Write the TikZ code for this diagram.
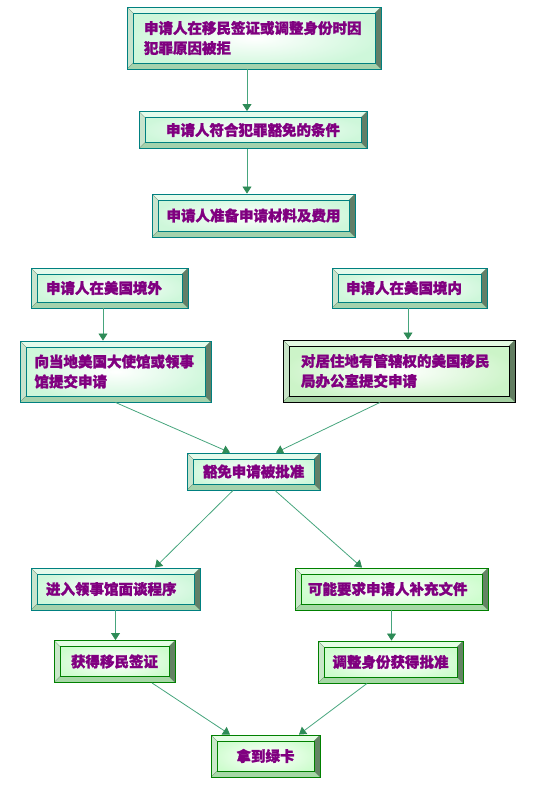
\documentclass[tikz,border=0pt]{standalone}
\usepackage{fontspec}
\newfontfamily\cjk{Noto Sans CJK SC}[FakeBold=1.6]
\usepackage{tikz}
\usetikzlibrary{arrows.meta,positioning,calc}
\usepackage{xcolor}
\definecolor{flowteal}{RGB}{0,128,128}
\definecolor{flowgreen}{RGB}{0,128,0}
\definecolor{flowtext}{RGB}{128,0,128}
\definecolor{flowline}{RGB}{70,165,125}
\definecolor{flowhead}{RGB}{46,139,87}
\definecolor{tealbottom}{RGB}{164,210,172}
\definecolor{tealinner}{RGB}{206,247,218}
\definecolor{greenbottom}{RGB}{166,216,166}
\definecolor{greeninner}{RGB}{206,253,206}
\definecolor{darkbottom}{RGB}{164,208,162}
\definecolor{darkinner}{RGB}{204,244,200}
\tikzset{
    bevel/.style n args={3}{rectangle, draw=#1, line width=0.9pt, inner sep=0pt,
        font=\cjk\bfseries\fontsize{14.5}{20}\selectfont, text=flowtext, align=left,
        inner color=white, outer color=#3,
        path picture={
            \coordinate (pA) at (path picture bounding box.north west);
            \coordinate (pB) at (path picture bounding box.north east);
            \coordinate (pC) at (path picture bounding box.south east);
            \coordinate (pD) at (path picture bounding box.south west);
            \coordinate (pa) at ([shift={(6pt,-6pt)}]pA);
            \coordinate (pb) at ([shift={(-6pt,-6pt)}]pB);
            \coordinate (pc) at ([shift={(-6pt,6pt)}]pC);
            \coordinate (pd) at ([shift={(6pt,6pt)}]pD);
            \fill[#3!55!white] (pA) -- (pB) -- (pb) -- (pa) -- cycle;
            \fill[#2!60!white] (pA) -- (pa) -- (pd) -- (pD) -- cycle;
            \fill[#2!60!black] (pB) -- (pC) -- (pc) -- (pb) -- cycle;
            \fill[#2] (pD) -- (pd) -- (pc) -- (pC) -- cycle;
            \draw[#2!55!black, line width=0.3pt] (pA) -- (pa) (pB) -- (pb) (pC) -- (pc) (pD) -- (pd);
            \draw[#1, line width=0.5pt] (pa) rectangle (pc);
        }},
    tealbox/.style={bevel={flowteal}{tealbottom}{tealinner}},
    greenbox/.style={bevel={flowgreen}{greenbottom}{greeninner}},
    darkbox/.style={bevel={black}{darkbottom}{darkinner}},
    flow/.style={draw=flowline, line width=0.8pt, -{Triangle[length=7pt,width=9pt,color=flowhead]}},
}

\begin{document}
\begin{tikzpicture}[x=1pt,y=-1pt]
    \useasboundingbox (0,0) rectangle (536,785);

    % Common steps
    \node[tealbox, minimum width=254pt, minimum height=62pt, text width=220pt] (b1) at (254,38)
        {申请人在移民签证或调整身份时因\\犯罪原因被拒};
    \node[tealbox, minimum width=228pt, minimum height=37pt] (b2) at (253,130) {申请人符合犯罪豁免的条件};
    \node[tealbox, minimum width=203pt, minimum height=43pt] (b3) at (253.5,215.5) {申请人准备申请材料及费用};

    % Outside / inside the US
    \node[tealbox, minimum width=157pt, minimum height=40pt, text width=127pt] (b4) at (109.5,288) {申请人在美国境外};
    \node[tealbox, minimum width=155pt, minimum height=40pt, text width=127pt] (b5) at (409.5,288) {申请人在美国境内};
    \node[tealbox, minimum width=191pt, minimum height=61pt, text width=162pt] (b6) at (115.5,371.5)
        {向当地美国大使馆或领事\\馆提交申请};
    \node[darkbox, minimum width=232pt, minimum height=62pt, text width=196pt] (b7) at (399,371)
        {对居住地有管辖权的美国移民\\局办公室提交申请};

    % Approval
    \node[tealbox, minimum width=133pt, minimum height=37pt] (b8) at (253.5,471.5) {豁免申请被批准};

    % Visa / adjustment
    \node[tealbox, minimum width=169pt, minimum height=42pt, text width=139pt] (b9) at (115.5,589) {进入领事馆面谈程序};
    \node[greenbox, minimum width=193pt, minimum height=42pt, text width=167pt] (b10) at (391.5,589) {可能要求申请人补充文件};
    \node[greenbox, minimum width=121pt, minimum height=42pt] (b11) at (114.5,661.5) {获得移民签证};
    \node[greenbox, minimum width=145pt, minimum height=42pt] (b12) at (390.5,662) {调整身份获得批准};
    \node[greenbox, minimum width=109pt, minimum height=42pt] (b13) at (265.5,756) {拿到绿卡};

    % Connectors
    \draw[flow] ([xshift=-7pt]b1.south) -- ([xshift=-7pt]b1.south |- b2.north);
    \draw[flow] ([xshift=-6pt]b2.south) -- ([xshift=-6pt]b2.south |- b3.north);
    \draw[flow] ([xshift=-6.5pt]b4.south) -- ([xshift=-6.5pt]b4.south |- b6.north);
    \draw[flow] ([xshift=-1.5pt]b5.south) -- ([xshift=-1.5pt]b5.south |- b7.north);
    \draw[flow] (b6.south) -- ([xshift=-23.5pt]b8.north);
    \draw[flow] ([xshift=-19pt]b7.south) -- ([xshift=22.5pt]b8.north);
    \draw[flow] ([xshift=-20.5pt]b8.south) -- ([xshift=39.5pt]b9.north);
    \draw[flow] ([xshift=21.5pt]b8.south) -- ([xshift=-29.5pt]b10.north);
    \draw[flow] (b9.south) -- (b9.south |- b11.north);
    \draw[flow] (b10.south) -- (b10.south |- b12.north);
    \draw[flow] ([xshift=37.5pt]b11.south) -- ([xshift=-35.5pt]b13.north);
    \draw[flow] ([xshift=-23.5pt]b12.south) -- ([xshift=33.5pt]b13.north);
\end{tikzpicture}
\end{document}
